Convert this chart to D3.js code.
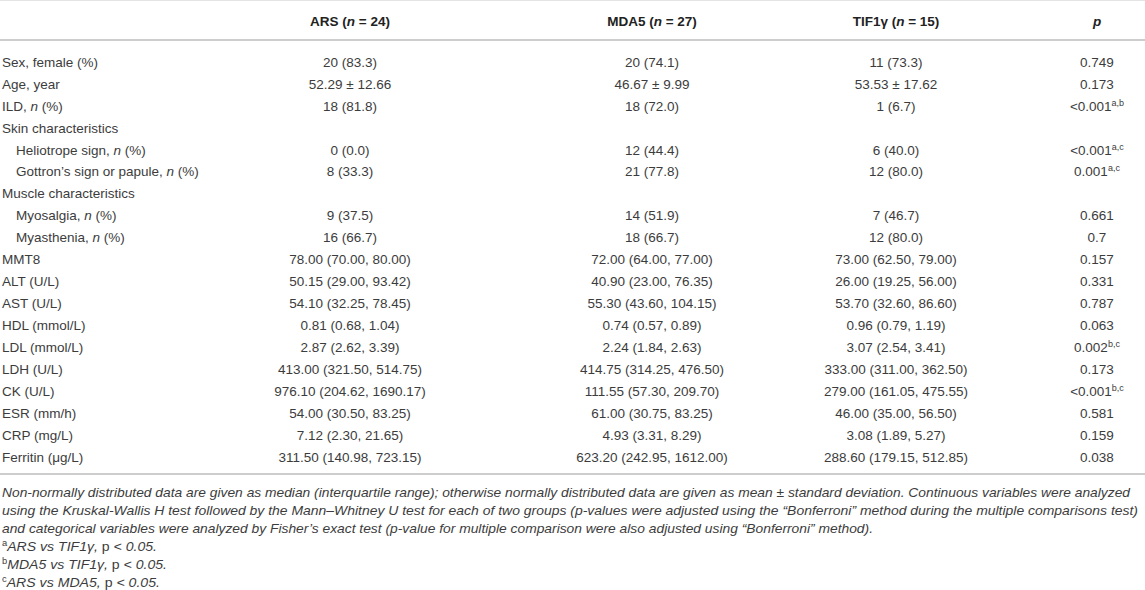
<!DOCTYPE html>
<html>
<head>
<meta charset="utf-8">
<script src="https://cdn.jsdelivr.net/npm/d3@7.9.0/dist/d3.min.js"></script>
<style>
  body { margin: 0; background: #fff; }
  svg { display: block; }
</style>
</head>
<body>
<svg id="tbl" width="1145" height="590"></svg>
<script>
// *x* = italic, ^x = superscript
const headers = ['', 'ARS (*n* = 24)', 'MDA5 (*n* = 27)', 'TIF1γ (*n* = 15)', '*p*'];

const rowLabels = [
  'Sex, female (%)', 'Age, year', 'ILD, *n* (%)', 'Skin characteristics',
  'Heliotrope sign, *n* (%)', 'Gottron\u2019s sign or papule, *n* (%)', 'Muscle characteristics',
  'Myosalgia, *n* (%)', 'Myasthenia, *n* (%)', 'MMT8', 'ALT (U/L)', 'AST (U/L)',
  'HDL (mmol/L)', 'LDL (mmol/L)', 'LDH (U/L)', 'CK (U/L)', 'ESR (mm/h)', 'CRP (mg/L)', 'Ferritin (μg/L)'
];
const indented = [false, false, false, false, true, true, false, true, true,
  false, false, false, false, false, false, false, false, false, false];

const arsVals = ['20 (83.3)', '52.29 ± 12.66', '18 (81.8)', '', '0 (0.0)', '8 (33.3)', '',
  '9 (37.5)', '16 (66.7)', '78.00 (70.00, 80.00)', '50.15 (29.00, 93.42)', '54.10 (32.25, 78.45)',
  '0.81 (0.68, 1.04)', '2.87 (2.62, 3.39)', '413.00 (321.50, 514.75)', '976.10 (204.62, 1690.17)',
  '54.00 (30.50, 83.25)', '7.12 (2.30, 21.65)', '311.50 (140.98, 723.15)'];
const mda5Vals = ['20 (74.1)', '46.67 ± 9.99', '18 (72.0)', '', '12 (44.4)', '21 (77.8)', '',
  '14 (51.9)', '18 (66.7)', '72.00 (64.00, 77.00)', '40.90 (23.00, 76.35)', '55.30 (43.60, 104.15)',
  '0.74 (0.57, 0.89)', '2.24 (1.84, 2.63)', '414.75 (314.25, 476.50)', '111.55 (57.30, 209.70)',
  '61.00 (30.75, 83.25)', '4.93 (3.31, 8.29)', '623.20 (242.95, 1612.00)'];
const tif1gVals = ['11 (73.3)', '53.53 ± 17.62', '1 (6.7)', '', '6 (40.0)', '12 (80.0)', '',
  '7 (46.7)', '12 (80.0)', '73.00 (62.50, 79.00)', '26.00 (19.25, 56.00)', '53.70 (32.60, 86.60)',
  '0.96 (0.79, 1.19)', '3.07 (2.54, 3.41)', '333.00 (311.00, 362.50)', '279.00 (161.05, 475.55)',
  '46.00 (35.00, 56.50)', '3.08 (1.89, 5.27)', '288.60 (179.15, 512.85)'];
const pVals = ['0.749', '0.173', '<0.001^a,b', '', '<0.001^a,c', '0.001^a,c', '',
  '0.661', '0.7', '0.157', '0.331', '0.787', '0.063', '0.002^b,c', '0.173', '<0.001^b,c',
  '0.581', '0.159', '0.038'];

const footLines = [
  '*Non-normally distributed data are given as median (interquartile range); otherwise normally distributed data are given as mean ± standard deviation. Continuous variables were analyzed*',
  '*using the Kruskal-Wallis H test followed by the Mann–Whitney U test for each of two groups (p-values were adjusted using the \u201cBonferroni\u201d method during the multiple comparisons test)*',
  '*and categorical variables were analyzed by Fisher\u2019s exact test (p-value for multiple comparison were also adjusted using \u201cBonferroni\u201d method).*',
  '^a*ARS vs TIF1γ,* p *< 0.05.*',
  '^b*MDA5 vs TIF1γ,* p *< 0.05.*',
  '^c*ARS vs MDA5,* p *< 0.05.*'
];
const footWidths = [1128, 1136, 871, 155, 165, 158];

const W = 1145;
const svg = d3.select('#tbl');
const font = '"Liberation Sans", Arial, Helvetica, sans-serif';

// split "a *b* c^d" into segments
function parse(str) {
  const segs = [];
  const re = /\*([^*]*)\*|\^([a-z,]+)|([^*^]+)/g;
  let m;
  while ((m = re.exec(str)) !== null) {
    if (m[1] !== undefined) segs.push({ t: m[1], it: true });
    else if (m[2] !== undefined) segs.push({ t: m[2], sup: true });
    else segs.push({ t: m[3] });
  }
  return segs;
}

function richText(sel, str, supSize) {
  parse(str).forEach(s => {
    const ts = sel.append('tspan').text(s.t);
    if (s.it) ts.attr('font-style', 'italic');
    if (s.sup) ts.attr('baseline-shift', 'super').attr('font-size', supSize);
  });
}

const colKeys = ['label', 'ars', 'mda5', 'tif1g', 'p'];
const x = d3.scaleOrdinal().domain(colKeys).range([0, 350, 652, 896, 1097]);
const y = d3.scalePoint().domain(d3.range(rowLabels.length)).range([62, 457]);

// rules
const lineColor = '#bdbdbd';
svg.append('line').attr('x1', 0).attr('x2', W).attr('y1', 0.5).attr('y2', 0.5)
  .attr('stroke', '#e4e4e4').attr('stroke-width', 1);
svg.append('line').attr('x1', 0).attr('x2', W).attr('y1', 40).attr('y2', 40)
  .attr('stroke', lineColor).attr('stroke-width', 1.5);
svg.append('line').attr('x1', 0).attr('x2', W).attr('y1', 474).attr('y2', 474)
  .attr('stroke', lineColor).attr('stroke-width', 1.5);

// header
headers.forEach((h, i) => {
  if (!h) return;
  const t = svg.append('text')
    .attr('x', x(colKeys[i])).attr('y', 21)
    .attr('dy', '0.35em')
    .attr('text-anchor', 'middle')
    .attr('font-family', font).attr('font-size', 13.5)
    .attr('font-weight', 'bold').attr('fill', '#222');
  richText(t, h, 9);
});

// body rows
const cols = { ars: arsVals, mda5: mda5Vals, tif1g: tif1gVals, p: pVals };
const rows = svg.append('g').selectAll('g')
  .data(rowLabels.map((l, i) => ({ i, label: l })))
  .join('g')
  .attr('transform', d => `translate(0,${y(d.i)})`);

rows.append('text')
  .attr('x', d => indented[d.i] ? 16 : 2)
  .attr('dy', '0.35em')
  .attr('font-family', font).attr('font-size', 13.5).attr('fill', '#3c3c3c')
  .each(function (d) { richText(d3.select(this), d.label, 9); });

['ars', 'mda5', 'tif1g', 'p'].forEach(k => {
  rows.append('text')
    .attr('x', x(k))
    .attr('dy', '0.35em')
    .attr('text-anchor', 'middle')
    .attr('font-family', font).attr('font-size', 13.5).attr('fill', '#3c3c3c')
    .each(function (d) { richText(d3.select(this), cols[k][d.i], 9); });
});

// footnotes
const fy = d3.scalePoint().domain(d3.range(footLines.length)).range([492, 582]);
footLines.forEach((f, i) => {
  const t = svg.append('text')
    .attr('x', 2).attr('y', fy(i)).attr('dy', '0.35em')
    .attr('font-family', font).attr('font-size', 13.5).attr('fill', '#3c3c3c');
  if (footWidths[i]) t.attr('textLength', footWidths[i]).attr('lengthAdjust', 'spacingAndGlyphs');
  richText(t, f, 9);
});
</script>
</body>
</html>
